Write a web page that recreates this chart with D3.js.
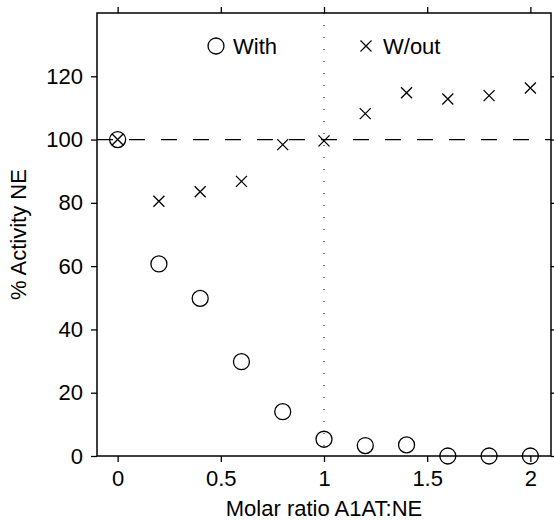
<!DOCTYPE html>
<html lang="en">
<head>
    <meta charset="UTF-8" />
    <title>Activity NE</title>
    <script src="https://d3js.org/d3.v7.min.js"></script>
    <style>
        body { margin: 0; background: #fff; }
        text { font-family: Arial, "Liberation Sans", sans-serif; fill: #000; }
    </style>
</head>
<body>
    <div id="chart"></div>
    <script>
        var w = 554;
        var h = 522;
        var margin = { top: 13, right: 3, bottom: 66, left: 97 };

        // data
        var ratios = [0, 0.2, 0.4, 0.6, 0.8, 1.0, 1.2, 1.4, 1.6, 1.8, 2.0];
        var withVals = [100, 60.7, 49.8, 29.8, 14, 5.3, 3.3, 3.5, 0, 0, 0];
        var withoutVals = [100, 80.5, 83.5, 86.8, 98.4, 99.6, 108.2, 114.8, 112.8, 113.9, 116.3];
        var xTicks = [0, 0.5, 1, 1.5, 2];
        var yTicks = [0, 20, 40, 60, 80, 100, 120];
        var seriesNames = ["With", "W/out"];

        var svg = d3.select("#chart")
            .append("svg")
            .attr("width", w)
            .attr("height", h);

        var xScale = d3.scaleLinear()
            .domain([-0.1, 2.1])
            .range([margin.left, w - margin.right]);

        var yScale = d3.scaleLinear()
            .domain([0, 140])
            .range([h - margin.bottom, margin.top]);

        var fmt = function (d) { return String(d); };

        // axes on all four sides, ticks pointing outward
        var axBottom = svg.append("g")
            .attr("transform", "translate(0," + (h - margin.bottom) + ")")
            .call(d3.axisBottom(xScale).tickValues(xTicks).tickFormat(fmt).tickSizeOuter(0).tickSize(6).tickPadding(8));
        var axTop = svg.append("g")
            .attr("transform", "translate(0," + margin.top + ")")
            .call(d3.axisTop(xScale).tickValues(xTicks).tickFormat("").tickSizeOuter(0).tickSize(6));
        var axLeft = svg.append("g")
            .attr("transform", "translate(" + margin.left + ",0)")
            .call(d3.axisLeft(yScale).tickValues(yTicks).tickFormat(fmt).tickSizeOuter(0).tickSize(6).tickPadding(8));
        var axRight = svg.append("g")
            .attr("transform", "translate(" + (w - margin.right) + ",0)")
            .call(d3.axisRight(yScale).tickValues(yTicks).tickFormat("").tickSizeOuter(0).tickSize(6));

        [axBottom, axTop, axLeft, axRight].forEach(function (g) {
            g.selectAll(".domain").remove();
            g.selectAll("line").attr("stroke", "#000").attr("stroke-width", 1.3);
            g.attr("font-size", null).attr("font-family", null);
            g.selectAll("text").style("font-size", "22px");
        });

        // frame
        svg.append("rect")
            .attr("x", xScale(-0.1))
            .attr("y", yScale(140))
            .attr("width", xScale(2.1) - xScale(-0.1))
            .attr("height", yScale(0) - yScale(140))
            .attr("fill", "none")
            .attr("stroke", "#000")
            .attr("stroke-width", 1.5);

        // reference lines
        svg.append("line")
            .attr("x1", xScale(-0.1)).attr("x2", xScale(2.1))
            .attr("y1", yScale(100)).attr("y2", yScale(100))
            .attr("stroke", "#000").attr("stroke-width", 1.2)
            .attr("stroke-dasharray", "16,16");
        svg.append("line")
            .attr("x1", xScale(1)).attr("x2", xScale(1))
            .attr("y1", yScale(140)).attr("y2", yScale(0))
            .attr("stroke", "#000").attr("stroke-width", 1)
            .attr("stroke-dasharray", "1,11");

        var withData = ratios.map(function (r, i) { return { x: r, y: withVals[i] }; });
        var withoutData = ratios.map(function (r, i) { return { x: r, y: withoutVals[i] }; });

        var crossPath = function (cx, cy, s) {
            return "M" + (cx - s) + "," + (cy - s) + "L" + (cx + s) + "," + (cy + s) +
                "M" + (cx - s) + "," + (cy + s) + "L" + (cx + s) + "," + (cy - s);
        };

        svg.selectAll(".with")
            .data(withData)
            .enter()
            .append("circle")
            .attr("class", "with")
            .attr("cx", function (d) { return xScale(d.x); })
            .attr("cy", function (d) { return yScale(d.y); })
            .attr("r", 8)
            .attr("fill", "none")
            .attr("stroke", "#000")
            .attr("stroke-width", 1.3);

        svg.selectAll(".without")
            .data(withoutData)
            .enter()
            .append("path")
            .attr("class", "without")
            .attr("d", function (d) { return crossPath(xScale(d.x), yScale(d.y), 5.5); })
            .attr("fill", "none")
            .attr("stroke", "#000")
            .attr("stroke-width", 1.3);

        // legend
        var legend = svg.append("g").attr("transform", "translate(0,46)");
        legend.append("circle")
            .attr("cx", 216).attr("cy", 0).attr("r", 8)
            .attr("fill", "none").attr("stroke", "#000").attr("stroke-width", 1.3);
        legend.append("text")
            .attr("x", 233).attr("y", 8)
            .style("font-size", "22px")
            .text(seriesNames[0]);
        legend.append("path")
            .attr("d", crossPath(366, 0, 5.5))
            .attr("fill", "none").attr("stroke", "#000").attr("stroke-width", 1.3);
        legend.append("text")
            .attr("x", 383).attr("y", 8)
            .style("font-size", "22px")
            .text(seriesNames[1]);

        // axis titles
        svg.append("text")
            .attr("x", (xScale(-0.1) + xScale(2.1)) / 2)
            .attr("y", 516)
            .attr("text-anchor", "middle")
            .style("font-size", "22px")
            .text("Molar ratio A1AT:NE");

        svg.append("text")
            .attr("transform", "translate(26," + ((yScale(0) + yScale(140)) / 2) + ") rotate(-90)")
            .attr("text-anchor", "middle")
            .style("font-size", "22px")
            .text("% Activity NE");
    </script>
</body>
</html>
